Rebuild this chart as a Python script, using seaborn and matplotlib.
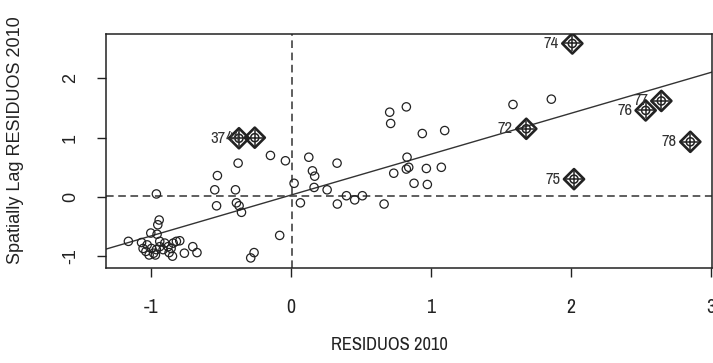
import matplotlib
matplotlib.use("Agg")
import matplotlib.pyplot as plt
import seaborn as sns
import pandas as pd
from matplotlib import font_manager

# ============================================================================
# DATA (read off the Moran scatterplot)
# ============================================================================

# regular observations: residuals vs spatially lagged residuals
res_x = [-1.16, -1.066, -1.055, -1.035, -1.012, -0.98, -1.026, -0.995, -0.96, -0.936,
         -0.912, -0.876, -0.855, -0.84, -0.817, -0.793, -0.869, -0.845, -0.76, -0.70,
         -0.67, -0.967, -0.936, -0.90,
         -1.0, -0.955, -0.95, -0.94, -0.96,
         -0.53, -0.376, -0.145, -0.038, -0.524, -0.543, -0.395, -0.388, -0.369, -0.352,
         0.024, 0.069, -0.079, -0.262, -0.286,
         0.129, 0.155, 0.171, 0.167, 0.26, 0.331, 0.333, 0.398, 0.457, 0.512,
         0.667, 0.707, 0.714, 0.826, 0.736, 0.831, 0.826, 0.843, 0.881, 0.94,
         0.969, 0.976, 1.076, 1.10, 1.588, 1.862]
lag_y = [-0.75, -0.77, -0.87, -0.92, -0.98, -0.95, -0.81, -0.87, -0.89, -0.84,
         -0.89, -0.84, -0.87, -0.78, -0.75, -0.74, -0.94, -1.0, -0.95, -0.84,
         -0.94, -0.98, -0.75, -0.78,
         -0.61, -0.63, -0.47, -0.39, 0.05,
         -0.15, 0.57, 0.70, 0.61, 0.36, 0.12, 0.12, -0.10, -0.15, -0.26,
         0.23, -0.10, -0.65, -0.94, -1.03,
         0.67, 0.44, 0.35, 0.16, 0.12, 0.57, -0.12, 0.02, -0.05, 0.02,
         -0.12, 1.43, 1.24, 1.52, 0.40, 0.67, 0.47, 0.50, 0.23, 1.07,
         0.48, 0.21, 0.50, 1.12, 1.56, 1.65]

# influential observations (labelled)
inf_lab = ["37", "44", "72", "74", "75", "76", "77", "78"]
inf_x = [-0.37, -0.257, 1.683, 2.012, 2.024, 2.536, 2.648, 2.855]
inf_y = [0.99, 1.0, 1.15, 2.59, 0.30, 1.46, 1.62, 0.93]

# fitted line and means
slope = 0.69
intercept = 0.03
mean_x = 0.007
mean_y = 0.02

# ============================================================================
# PLOT
# ============================================================================

sns.set_style("ticks")
plt.rcParams["font.family"] = ["Liberation Sans", "DejaVu Sans"]
plt.rcParams["axes.unicode_minus"] = False
ink = "#222222"

# horizontal text in the reference is squeezed; use a narrow face if one exists
names = sorted({f.name for f in font_manager.fontManager.ttflist})
narrow = next((n for n in names if "Narrow" in n or "Condensed" in n), None)
if narrow:
    hfam, hsize, lsize = narrow, 13.3, 12
else:
    hfam, hsize, lsize = "Liberation Sans", 11.5, 10

df = pd.DataFrame({"x": res_x, "y": lag_y})
df_inf = pd.DataFrame({"x": inf_x, "y": inf_y, "lab": inf_lab})

fig = plt.figure(figsize=(7.13, 3.63), dpi=100)
ax = fig.add_axes([106 / 713, 1 - 268 / 363, 606 / 713, 234 / 363])

sns.scatterplot(data=df, x="x", y="y", ax=ax, marker="o", s=36,
                facecolor="none", edgecolor=ink, linewidth=0.9, zorder=3)
sns.scatterplot(data=df_inf, x="x", y="y", ax=ax, marker="D", s=105,
                facecolor="none", edgecolor=ink, linewidth=1.9, zorder=4)
sns.scatterplot(data=df_inf, x="x", y="y", ax=ax, marker="o", s=34,
                facecolor="none", edgecolor=ink, linewidth=1.1, zorder=4)
sns.scatterplot(data=df_inf, x="x", y="y", ax=ax, marker="+", s=120,
                color=ink, linewidth=1.1, zorder=5)

for _, r in df_inf.iterrows():
    ax.annotate(r["lab"], (r["x"], r["y"]), xytext=(-9.5, 0), textcoords="offset points",
                ha="right", va="center", fontsize=lsize, family=hfam,
                color="#333333", zorder=6)

ax.axline((0, intercept), slope=slope, color="#333333", lw=1.0, zorder=2)
ax.axvline(mean_x, color="#333333", lw=1.1, ls=(0, (5, 3)), zorder=1)
ax.axhline(mean_y, color="#333333", lw=1.1, ls=(0, (5, 3)), zorder=1)

ax.set_xlim(-1.32, 3.01)
ax.set_ylim(-1.2, 2.75)
ax.set_xticks([-1, 0, 1, 2, 3])
ax.set_yticks([-1, 0, 1, 2])
ax.tick_params(axis="both", direction="out", length=6.5, width=1.0, color=ink)
ax.tick_params(axis="x", pad=15, labelsize=hsize + 1, labelcolor=ink)
ax.tick_params(axis="y", pad=13, labelsize=13, labelcolor=ink)
for t in ax.get_xticklabels():
    t.set_family(hfam)
for t in ax.get_yticklabels():
    t.set_rotation(90)
    t.set_va("center")

for s in ax.spines.values():
    s.set_color(ink)
    s.set_linewidth(1.1)

ax.set_xlabel("RESIDUOS 2010", fontsize=hsize, family=hfam, color=ink)
ax.xaxis.set_label_coords(0.467, -0.33)
ax.xaxis.label.set_va("center")
ax.set_ylabel("Spatially Lag RESIDUOS 2010", fontsize=13, color=ink)
ax.yaxis.set_label_coords(-0.150, 0.547)
ax.yaxis.label.set_va("center")

fig.savefig("out.png", dpi=100)
